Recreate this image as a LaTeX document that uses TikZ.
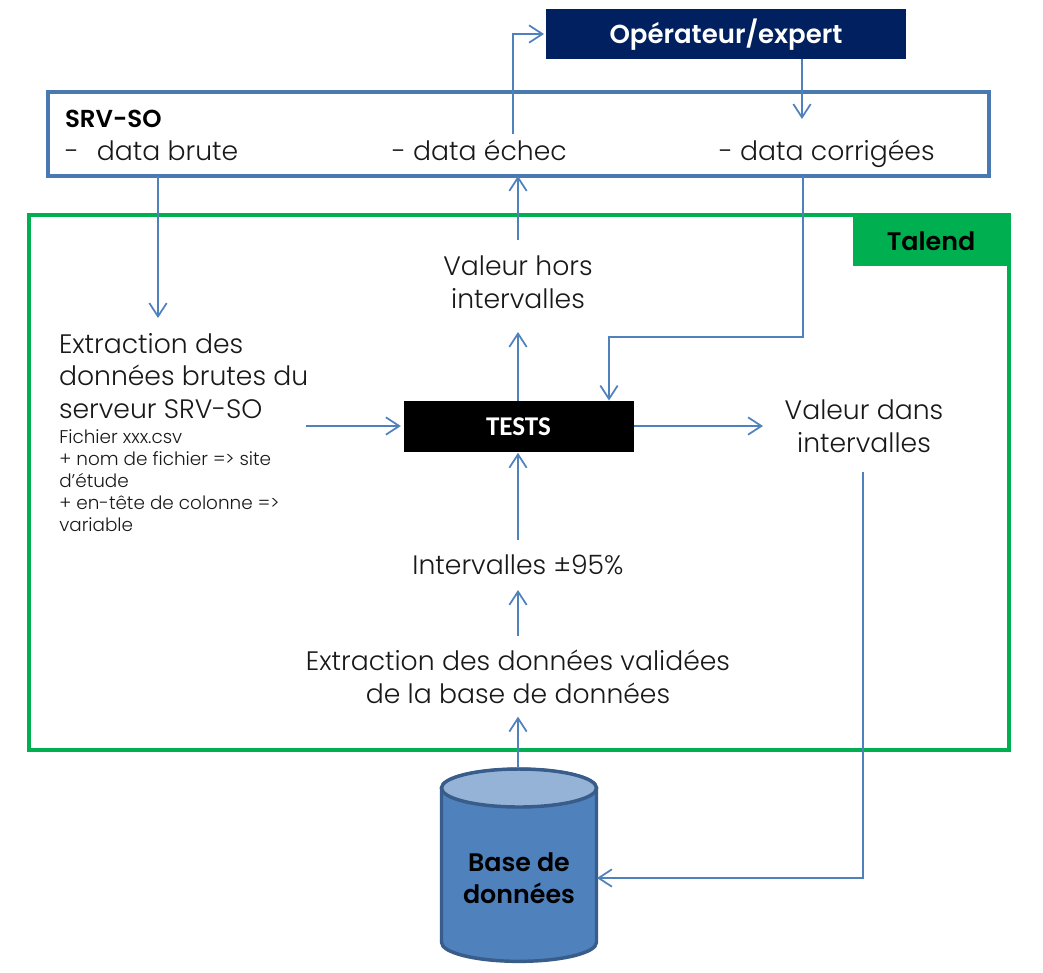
\documentclass[tikz,border=0pt]{standalone}
\usepackage{fontspec}
\setmainfont{Poppins}[UprightFont={* Light},BoldFont={* SemiBold}]
\newfontfamily\testfont{Carlito}
\usetikzlibrary{arrows.meta}
\definecolor{conn}{HTML}{4F81BD}
\definecolor{srvline}{HTML}{4A78B0}
\definecolor{talend}{HTML}{00B050}
\definecolor{navy}{HTML}{002060}
\definecolor{cyldark}{HTML}{385D8A}
\definecolor{cyltop}{HTML}{95B3D7}
\newcommand{\fsz}[2]{\fontsize{#1}{#2}\selectfont}
\tikzset{
 x=0.75pt,y=-0.75pt,
 flow/.style={draw=conn,line width=1.3pt,-{Straight Barb[length=10pt,width=13pt,line width=1.3pt]}},
 txt/.style={font=\fsz{20}{24.7},align=center,inner sep=0pt,outer sep=0pt,text=black!90},
 lefttxt/.style={txt,align=left,anchor=north west},
 small/.style={font=\fsz{13.8}{16.6},align=left,inner sep=0pt,anchor=north west,text=black!90},
 box/.style={inner sep=0pt,outer sep=0pt},
}
\begin{document}
\begin{tikzpicture}
\useasboundingbox (0,0) rectangle (1043,972);
\fill[white] (0,0) rectangle (1043,972);
% frames
\node[box,draw=talend,line width=2.8pt,minimum width=735pt,minimum height=401.25pt] (frame) at (519,482.5) {};
\node[box,fill=talend,minimum width=117pt,minimum height=38.25pt,font=\fsz{19}{22}\bfseries,text=black] (talendtab) at (931,240) {\raisebox{-0.8pt}[\height][\depth]{Talend}};
\node[box,draw=srvline,line width=2.8pt,minimum width=705.75pt,minimum height=63pt] (srv) at (518.5,134) {};
% top box
\node[box,fill=navy,minimum width=270pt,minimum height=37.5pt,text=white,font=\fsz{19.5}{22}\bfseries] (oper) at (726,34) {\raisebox{-0.8pt}[\height][\depth]{Opérateur/expert}};
% SRV-SO texts
\node[txt,anchor=base west,font=\fsz{18.4}{22}\bfseries,text=black] (srvtitle) at (65,127) {SRV-SO};
\node[txt,anchor=base west] (brute) at (65,160) {-\hspace{13.5pt}data brute};
\node[txt,anchor=base west] (echec) at (392,160) {- data échec};
\node[txt,anchor=base west] (corr) at (719,160) {- data corrigées};
% middle texts
\node[txt,minimum width=160pt,minimum height=63pt] (hors) at (518,282) {Valeur hors\\intervalles};
\node[box,fill=black,minimum width=172.5pt,minimum height=38.25pt,text=white,font=\testfont\fsz{20.3}{24}\bfseries] (tests) at (518.5,426) {\raisebox{-0.8pt}[\height][\depth]{TESTS}};
\node[txt,minimum width=151.5pt,minimum height=60pt] (dans) at (864,426) {Valeur dans\\intervalles};
\node[txt,minimum height=37.5pt] (interv) at (518,565) {Intervalles ±95\%};
\node[txt,minimum height=61.5pt] (valid) at (518,677) {Extraction des données validées\\de la base de données};
\node[lefttxt] (extr) at (59,333) {Extraction des\\données brutes du\\serveur SRV-SO};
\node[small] (fich) at (59,429) {Fichier xxx.csv\\+ nom de fichier => site\\d’étude\\+ en-tête de colonne =>\\variable};
% cylinder
\node[box,minimum width=116.25pt,minimum height=145pt] (base) at (519,865) {};
\draw[cyldark,fill=conn,line width=2.6pt] (base.north west)++(0,20) -- ++(0,154)
  arc[start angle=180,end angle=360,x radius=77.5,y radius=-19]
  -- ++(0,-154) arc[start angle=0,end angle=180,x radius=77.5,y radius=-19] -- cycle;
\draw[cyldark,fill=cyltop,line width=2.6pt] (519,788) ellipse[x radius=77.5,y radius=-19];
\node[txt,font=\fsz{19}{24}\bfseries,text=black] (basetxt) at (519,878) {Base de\\données};
% connectors
\coordinate (echecout) at (513,134);
\draw[flow] (echecout) |- ([xshift=-1.5pt]oper.west);
\coordinate (corrin) at (802,119);
\draw[flow] (oper.south -| corrin) -- (corrin);
\coordinate (extrin) at (158,318);
\draw[flow] (srv.south -| extrin) -- (extrin);
\draw[flow] (hors.north) -- (srv.south -| hors);
\coordinate (bend) at (803,337);
\coordinate (testsin) at (609,337);
\draw[flow] (srv.south -| bend) -- (bend) -- (testsin) -- (tests.north -| testsin);
\draw[flow] (tests.north -| hors) -- ([yshift=-6pt]hors.south);
\coordinate (extrout) at (306,426);
\draw[flow] (extrout) -- ([xshift=-2pt]tests.west);
\draw[flow] (tests.east) -- (dans.west);
\draw[flow] (interv.north) -- ([yshift=-1pt]tests.south -| interv);
\draw[flow] (valid.north) -- (interv.south);
\draw[flow] (base.north -| valid) -- ([yshift=1pt]valid.south);
\coordinate (dansout) at (863,472);
\coordinate (basein) at (597,878);
\draw[flow] (dansout) |- (basein);
\end{tikzpicture}
\end{document}
